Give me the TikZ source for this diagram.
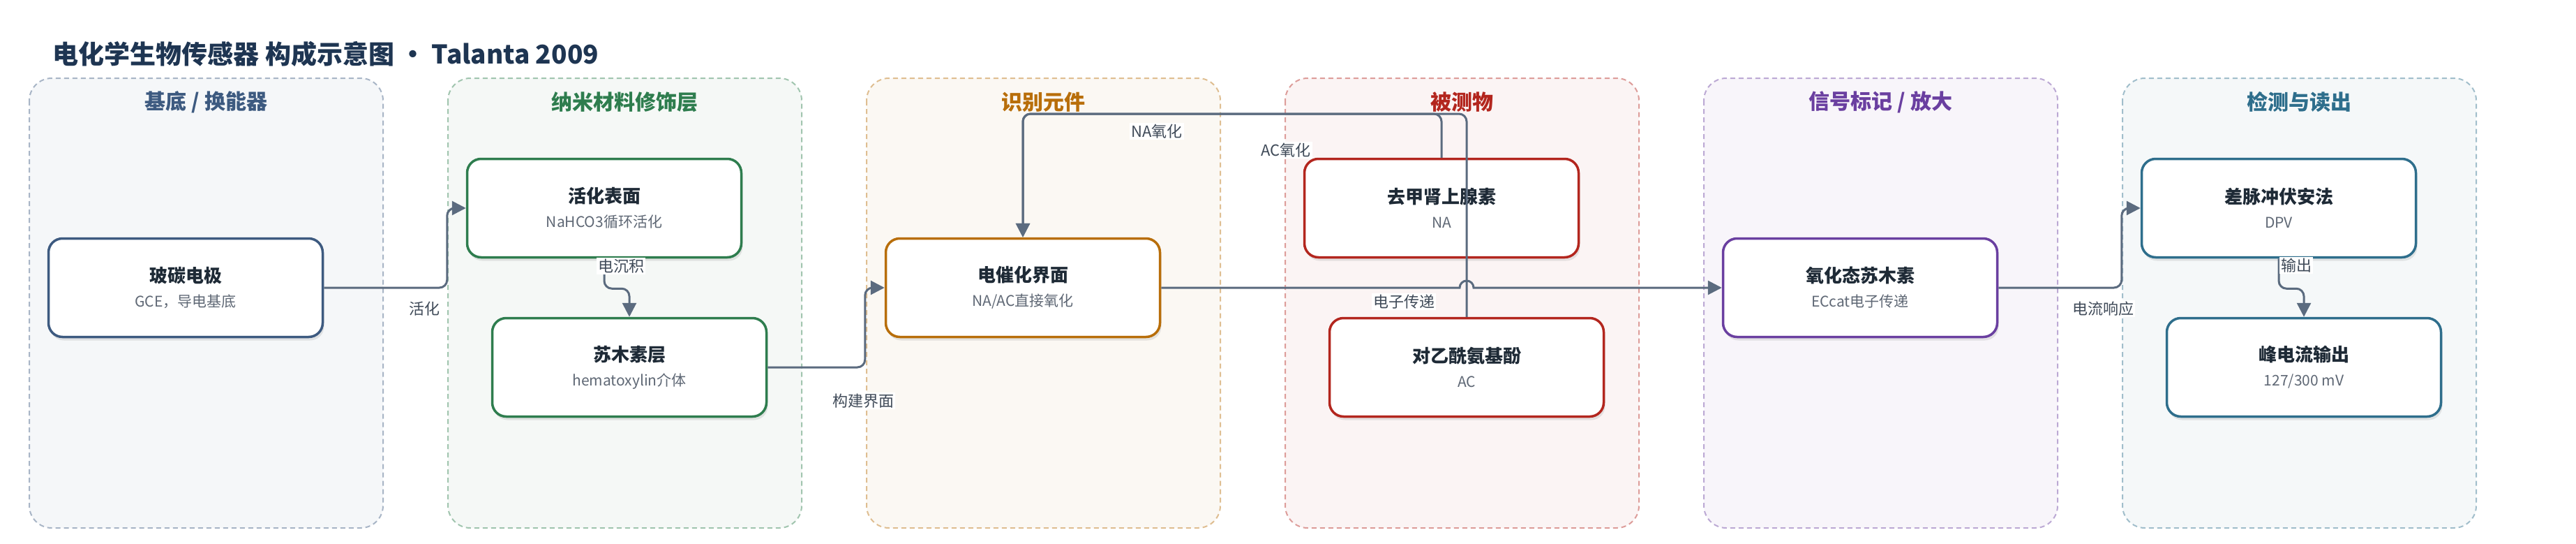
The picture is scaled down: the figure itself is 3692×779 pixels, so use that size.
\documentclass[tikz,border=0pt]{standalone}
\usepackage{fontspec}
\setmainfont{Noto Sans CJK SC}
\usepackage{xcolor}
\usetikzlibrary{arrows.meta,positioning,shadows,calc}
\definecolor{titlecol}{HTML}{1E3552}
\definecolor{subcol}{HTML}{3D5A80}
\definecolor{nanocol}{HTML}{2E7D4E}
\definecolor{reccol}{HTML}{B86E0A}
\definecolor{anacol}{HTML}{B3261E}
\definecolor{sigcol}{HTML}{6A3FA0}
\definecolor{detcol}{HTML}{2E6E8C}
\definecolor{edgecol}{HTML}{5B6B7F}
\definecolor{labelcol}{HTML}{3F4A58}
\definecolor{headcol}{HTML}{1E2A36}
\definecolor{notecol}{HTML}{5F6875}
\tikzset{
  lane/.style={draw=#1!45!white,fill=#1!5!white,line width=2pt,
               dash pattern=on 7pt off 5pt,rounded corners=32pt},
  lanetitle/.style={text=#1,font=\fontsize{30}{36}\selectfont\bfseries},
  block/.style={draw=#1,line width=3.5pt,fill=white,rounded corners=20pt,
                minimum width=393pt,minimum height=141pt,align=center,
                font=\fontsize{21}{35}\selectfont,
                drop shadow={opacity=0.18,shadow xshift=2pt,shadow yshift=-5pt}},
  flow/.style={edgecol,line width=3pt,rounded corners=11pt,
               -{Triangle[length=20pt,width=20pt]}},
  flowlabel/.style={fill=white,inner sep=2pt,text=labelcol,
                    font=\fontsize{22}{26}\selectfont}
}
\newcommand{\blocktext}[2]{{\fontsize{26}{35}\selectfont\bfseries\color{headcol}#1}\\\color{notecol}#2}

\begin{document}
\begin{tikzpicture}[x=1pt,y=-1pt]
  \def\W{507}
  \def\H{644}

  \fill[white] (0,0) rectangle (3692,779);
  \useasboundingbox (0,0) rectangle (3692,779);

  % TITLE
  \node[anchor=west,text=titlecol,font=\fontsize{37}{44}\selectfont\bfseries]
    (title) at (72,77) {电化学生物传感器 构成示意图 · Talanta 2009};

  % LANES
  \foreach \i/\col/\name [evaluate=\i as \x using 42+600*\i] in
    {0/subcol/{基底 / 换能器},1/nanocol/纳米材料修饰层,2/reccol/识别元件,
     3/anacol/被测物,4/sigcol/{信号标记 / 放大},5/detcol/检测与读出}{
    \draw[lane=\col] (\x,112) rectangle ++(\W,\H);
    \node[lanetitle=\col] (lane\i) at (\x+\W/2,146) {\name};
  }

  % BLOCKS
  \node[block=subcol]  (gce)  at (266,412)  {\blocktext{玻碳电极}{GCE，导电基底}};
  \node[block=nanocol] (act)  at (866,298)  {\blocktext{活化表面}{NaHCO3循环活化}};
  \node[block=nanocol] (hem)  at (902,526)  {\blocktext{苏木素层}{hematoxylin介体}};
  \node[block=reccol]  (eci)  at (1466,412) {\blocktext{电催化界面}{NA/AC直接氧化}};
  \node[block=anacol]  (na)   at (2066,298) {\blocktext{去甲肾上腺素}{NA}};
  \node[block=anacol]  (ac)   at (2102,526) {\blocktext{对乙酰氨基酚}{AC}};
  \node[block=sigcol]  (oxh)  at (2666,412) {\blocktext{氧化态苏木素}{ECcat电子传递}};
  \node[block=detcol]  (dpv)  at (3266,298) {\blocktext{差脉冲伏安法}{DPV}};
  \node[block=detcol]  (peak) at (3302,526) {\blocktext{峰电流输出}{127/300 mV}};

  % FLOWS
  \coordinate (oxtop) at (1466,163);
  \draw[flow] (gce.east) -| ([xshift=-27pt]act.west) -- (act.west);
  \draw[flow] (act.south) -- ++(0,43) -| (hem.north);
  \draw[flow] (hem.east) -| ([xshift=-28pt]eci.west) -- (eci.west);
  \draw[flow] (na.north) |- (oxtop) -- (eci.north);
  \draw[flow] (ac.north) |- (oxtop) -- (eci.north);
  \draw[flow,sharp corners] (eci.east) -- ($(ac.north |- eci.east)+(-10,0)$)
    arc[start angle=180,end angle=360,radius=10] -- (oxh.west);
  \draw[flow] (oxh.east) -| ([xshift=-27pt]dpv.west) -- (dpv.west);
  \draw[flow] (dpv.south) -- ++(0,43) -| (peak.north);

  % LABELS
  \node[flowlabel] (lact)  at (608,442)  {活化};
  \node[flowlabel] (ldep)  at (890,381)  {电沉积};
  \node[flowlabel] (lint)  at (1237,574) {构建界面};
  \node[flowlabel] (lna)   at (1658,188) {NA氧化};
  \node[flowlabel] (lac)   at (1843,215) {AC氧化};
  \node[flowlabel] (lelec) at (2012,432) {电子传递};
  \node[flowlabel] (lcur)  at (3014,442) {电流响应};
  \node[flowlabel] (lout)  at (3291,380) {输出};
\end{tikzpicture}
\end{document}
